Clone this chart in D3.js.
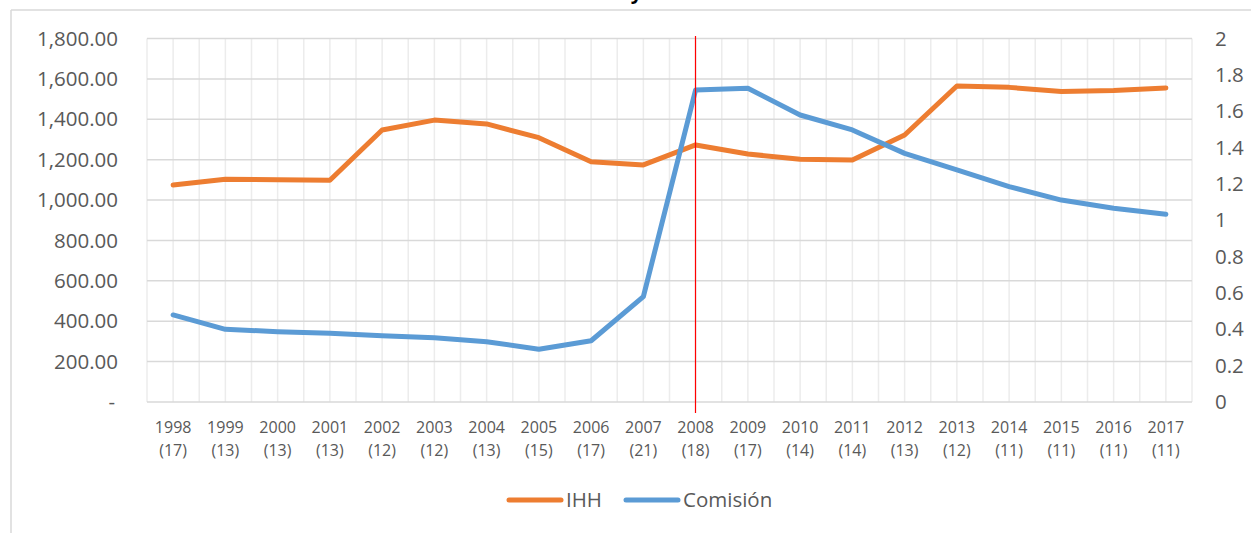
<!DOCTYPE html>
<html>
<head>
<meta charset="utf-8">
<script src="https://cdn.jsdelivr.net/npm/d3@7"></script>
<style>
  body { margin: 0; background: #fff; }
  svg { display: block; font-family: "Open Sans", "Noto Sans", sans-serif; }
</style>
</head>
<body>
<svg id="chart"></svg>
<script>
// data
const years = ["1998","1999","2000","2001","2002","2003","2004","2005","2006","2007",
               "2008","2009","2010","2011","2012","2013","2014","2015","2016","2017"];
const firms = ["17","13","13","13","12","12","13","15","17","21",
               "18","17","14","14","13","12","11","11","11","11"];
const ihh = [1075, 1103, 1100, 1098, 1347, 1396, 1377, 1309, 1190, 1174,
             1273, 1228, 1202, 1198, 1322, 1565, 1558, 1537, 1542, 1555];
const comision = [0.479, 0.400, 0.387, 0.378, 0.365, 0.354, 0.332, 0.290, 0.337, 0.580,
                  1.717, 1.726, 1.579, 1.497, 1.368, 1.277, 1.185, 1.111, 1.066, 1.033];
const leftTicks = [0, 200, 400, 600, 800, 1000, 1200, 1400, 1600, 1800];
const rightTicks = [0, 0.2, 0.4, 0.6, 0.8, 1, 1.2, 1.4, 1.6, 1.8, 2];
const markerYear = "2008";
const seriesNames = ["IHH", "Comisión"];

const W = 1251, H = 533;
const margin = {left: 147, right: 59, top: 38.5, bottom: 131};
const colors = {ihh: "#ED7D31", com: "#5B9BD5"};

const svg = d3.select("#chart").attr("width", W).attr("height", H);

// chart frame (only top and left visible)
svg.append("line").attr("x1", 11).attr("x2", W).attr("y1", 10).attr("y2", 10)
  .attr("stroke", "#d9d9d9").attr("stroke-width", 1.5);
svg.append("line").attr("x1", 11).attr("x2", 11).attr("y1", 10).attr("y2", H)
  .attr("stroke", "#d9d9d9").attr("stroke-width", 1.5);

// title, cut off by the top edge as in the source
svg.append("text").attr("x", 664).attr("y", -1)
  .attr("text-anchor", "middle").attr("font-size", 20).attr("font-weight", "bold")
  .attr("fill", "#000").text("IHH y Comisión");

const x = d3.scaleBand().domain(years)
  .range([margin.left, W - margin.right]).padding(0);
const yL = d3.scaleLinear().domain([0, 1800]).range([H - margin.bottom, margin.top]);
const yR = d3.scaleLinear().domain([0, 2]).range([H - margin.bottom, margin.top]);
const cx = d => x(d) + x.bandwidth() / 2;

// vertical gridlines: category edges and centres
const vx = [];
years.forEach(d => { vx.push(x(d)); vx.push(cx(d)); });
vx.push(x.range()[1]);
svg.append("g").selectAll("line").data(vx).join("line")
  .attr("x1", d => d).attr("x2", d => d)
  .attr("y1", yL(1800)).attr("y2", yL(0))
  .attr("stroke", "#ececec").attr("stroke-width", 1.5);

// horizontal gridlines
svg.append("g").selectAll("line").data(leftTicks).join("line")
  .attr("x1", x.range()[0]).attr("x2", x.range()[1])
  .attr("y1", d => yL(d)).attr("y2", d => yL(d))
  .attr("stroke", "#d9d9d9").attr("stroke-width", 1.5);

// left axis
const fmtL = d3.format(",.2f");
const axL = svg.append("g").attr("transform", "translate(118,0)")
  .call(d3.axisLeft(yL).tickValues(leftTicks).tickSize(0).tickPadding(0)
    .tickFormat(d => d === 0 ? "-" : fmtL(d)));
axL.select(".domain").remove();
axL.selectAll("text").attr("font-size", 20.5).attr("fill", "#595959")
  .attr("font-family", "Open Sans");
axL.selectAll(".tick text").filter(d => d === 0).attr("dx", -3);

// right axis
const axR = svg.append("g").attr("transform", "translate(1215,0)")
  .call(d3.axisRight(yR).tickValues(rightTicks).tickSize(0).tickPadding(0)
    .tickFormat(d3.format("~g")));
axR.select(".domain").remove();
axR.selectAll("text").attr("font-size", 20.5).attr("fill", "#595959")
  .attr("font-family", "Open Sans");

// x labels, two lines
const xl = svg.append("g").selectAll("text").data(years).join("text")
  .attr("x", d => cx(d)).attr("text-anchor", "middle")
  .attr("font-size", 16).attr("fill", "#595959");
xl.append("tspan").attr("x", d => cx(d)).attr("y", 433).text(d => d);
xl.append("tspan").attr("x", d => cx(d)).attr("y", 456).text((d, i) => "(" + firms[i] + ")");

// series lines
const lineL = d3.line().x((d, i) => cx(years[i])).y(d => yL(d));
const lineR = d3.line().x((d, i) => cx(years[i])).y(d => yR(d));

svg.append("path").datum(ihh).attr("d", lineL)
  .attr("fill", "none").attr("stroke", colors.ihh).attr("stroke-width", 5)
  .attr("stroke-linecap", "round").attr("stroke-linejoin", "round");
svg.append("path").datum(comision).attr("d", lineR)
  .attr("fill", "none").attr("stroke", colors.com).attr("stroke-width", 5)
  .attr("stroke-linecap", "round").attr("stroke-linejoin", "round");

// red marker line at 2008
const mx = Math.floor(cx(markerYear)) + 0.5;
svg.append("line")
  .attr("x1", mx).attr("x2", mx)
  .attr("y1", 36).attr("y2", 413)
  .attr("stroke", "#ff0000").attr("stroke-width", 1.2);

// legend
const legend = svg.append("g");
const items = [
  {name: seriesNames[0], color: colors.ihh, x: 507},
  {name: seriesNames[1], color: colors.com, x: 624}
];
items.forEach(it => {
  legend.append("line").attr("x1", it.x + 2).attr("x2", it.x + 54)
    .attr("y1", 500).attr("y2", 500)
    .attr("stroke", it.color).attr("stroke-width", 5).attr("stroke-linecap", "round");
  legend.append("text").attr("x", it.x + 59).attr("y", 500).attr("dy", "0.35em")
    .attr("font-size", 20.5).attr("fill", "#595959").text(it.name);
});
</script>
</body>
</html>
